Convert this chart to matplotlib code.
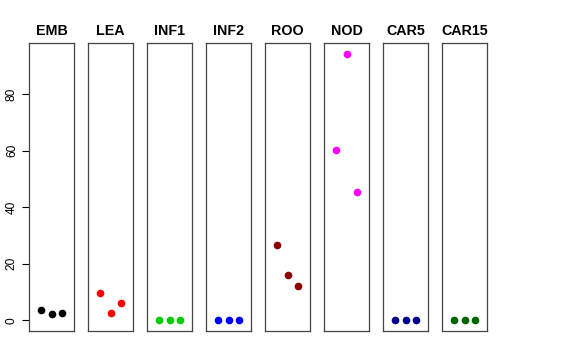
import matplotlib.pyplot as plt

plt.rcParams['font.family'] = ['Liberation Sans', 'DejaVu Sans']

tissues = ['EMB', 'LEA', 'INF1', 'INF2', 'ROO', 'NOD', 'CAR5', 'CAR15']
colors = ['black', 'red', '#00cd00', 'blue', '#8b0000', 'magenta', '#00008b', '#006400']
reps = [1, 2, 3]
values = [
    [3.5, 2.4, 2.6],
    [9.6, 2.7, 6.0],
    [0.0, 0.0, 0.0],
    [0.0, 0.0, 0.0],
    [26.5, 16.0, 12.3],
    [60.2, 94.3, 45.5],
    [0.0, 0.0, 0.0],
    [0.0, 0.0, 0.0],
]
yticks = [0, 20, 40, 60, 80]

W, H = 576, 360
fig = plt.figure(figsize=(W / 100, H / 100), dpi=100)

for i, (name, col, vals) in enumerate(zip(tissues, colors, values)):
    left = 29 + i * 59
    ax = fig.add_axes([left / W, (H - 331) / H, 45 / W, (331 - 43) / H])
    ax.plot(reps, vals, 'o', color=col, markersize=4.5, linestyle='none')
    ax.set_xlim(-0.16, 4.16)
    ax.set_ylim(-3.77, 98.07)
    ax.set_xticks([])
    for s in ax.spines.values():
        s.set_color('#444444')
        s.set_linewidth(0.9)
    ax.set_title(name, fontsize=10.3, fontweight='bold', pad=6)
    if i == 0:
        ax.set_yticks(yticks)
        ax.set_yticklabels([str(t) for t in yticks], rotation=90, va='center', fontsize=8.6)
        ax.tick_params(axis='y', length=5, width=0.8, pad=3)
    else:
        ax.set_yticks([])

fig.savefig('out.png', dpi=100)
